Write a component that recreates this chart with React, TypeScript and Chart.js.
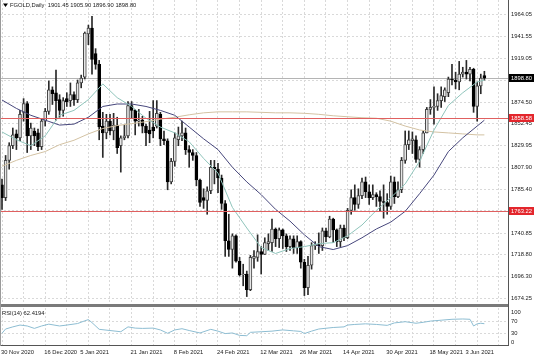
import React, { useEffect, useRef } from 'react';
import { Chart, registerables } from 'chart.js';

Chart.register(...registerables);

// ---- Daily candles (bar index 0 = 30 Nov 2020) ----
const opens = [
  1790, 1777, 1815, 1830, 1842, 1838, 1864, 1873, 1840, 1845,
  1843, 1829, 1855, 1865, 1887, 1884, 1877, 1866, 1878, 1876,
  1882, 1877, 1894, 1900, 1944, 1950, 1924, 1913, 1850, 1843,
  1855, 1845, 1851, 1830, 1838, 1840, 1871, 1866, 1855, 1856,
  1850, 1846, 1849, 1850, 1862, 1837, 1835, 1793, 1814, 1836,
  1840, 1843, 1826, 1823, 1820, 1795, 1777, 1774, 1784, 1808,
  1806, 1797, 1771, 1733, 1724, 1738, 1712, 1698, 1699, 1683,
  1715, 1716, 1722, 1719, 1730, 1731, 1745, 1735, 1744, 1738,
  1727, 1735, 1726, 1732, 1711, 1685, 1708, 1728, 1729, 1728,
  1743, 1737, 1755, 1744, 1732, 1746, 1736, 1764, 1777, 1770,
  1779, 1793, 1783, 1777, 1780, 1778, 1773, 1772, 1768, 1793,
  1778, 1785, 1815, 1831, 1835, 1836, 1816, 1826, 1843, 1867,
  1869, 1870, 1876, 1880, 1884, 1898, 1897, 1895, 1903, 1905,
  1903, 1908, 1870, 1891, 1901.45,
];
const highs = [
  1796, 1820, 1833, 1848, 1846, 1866, 1878, 1875, 1853, 1848,
  1847, 1857, 1868, 1896, 1890, 1907, 1882, 1879, 1884, 1894,
  1885, 1897, 1902, 1946, 1953, 1962, 1929, 1917, 1864, 1862,
  1862, 1863, 1859, 1840, 1851, 1875, 1875, 1867, 1867, 1860,
  1852, 1865, 1876, 1876, 1864, 1845, 1837, 1817, 1843, 1849,
  1855, 1848, 1830, 1826, 1823, 1796, 1786, 1788, 1815, 1815,
  1812, 1800, 1774, 1760, 1740, 1739, 1716, 1709, 1702, 1718,
  1723, 1739, 1727, 1736, 1740, 1755, 1746, 1746, 1745, 1740,
  1738, 1738, 1738, 1733, 1714, 1717, 1731, 1732, 1741, 1746,
  1746, 1758, 1756, 1745, 1749, 1749, 1766, 1785, 1790, 1786,
  1797, 1798, 1790, 1790, 1782, 1784, 1790, 1781, 1799, 1798,
  1793, 1818, 1845, 1845, 1844, 1840, 1829, 1845, 1869, 1877,
  1890, 1883, 1890, 1889, 1900, 1913, 1905, 1916, 1910, 1917,
  1910, 1909, 1895, 1903, 1905.9,
];
const lows = [
  1765, 1774, 1806, 1827, 1826, 1835, 1855, 1823, 1826, 1830,
  1825, 1826, 1850, 1862, 1872, 1856, 1859, 1860, 1870, 1870,
  1871, 1874, 1889, 1898, 1933, 1903, 1908, 1836, 1818, 1837,
  1841, 1836, 1822, 1803, 1836, 1838, 1858, 1841, 1850, 1843,
  1830, 1833, 1838, 1848, 1830, 1831, 1785, 1791, 1809, 1830,
  1835, 1821, 1808, 1815, 1789, 1768, 1766, 1760, 1781, 1791,
  1782, 1765, 1717, 1717, 1705, 1711, 1697, 1687, 1676, 1682,
  1705, 1712, 1699, 1719, 1723, 1722, 1727, 1726, 1725, 1722,
  1723, 1720, 1720, 1705, 1677, 1678, 1704, 1724, 1720, 1723,
  1732, 1736, 1731, 1727, 1727, 1733, 1735, 1760, 1764, 1766,
  1776, 1777, 1770, 1775, 1768, 1763, 1756, 1760, 1765, 1771,
  1777, 1782, 1812, 1826, 1822, 1813, 1808, 1822, 1843, 1862,
  1852, 1866, 1869, 1875, 1880, 1892, 1888, 1887, 1900, 1898,
  1896, 1864, 1855, 1883, 1896.9,
];
const closes = [
  1777, 1815, 1830, 1841, 1838, 1862, 1873, 1840, 1848, 1840,
  1829, 1855, 1865, 1887, 1883, 1876, 1866, 1876, 1875, 1882,
  1877, 1894, 1899, 1945, 1950, 1918, 1913, 1849, 1843, 1855,
  1845, 1851, 1828, 1838, 1840, 1871, 1866, 1855, 1856, 1850,
  1843, 1842, 1845, 1863, 1837, 1835, 1793, 1814, 1838, 1840,
  1843, 1826, 1823, 1820, 1795, 1772, 1774, 1784, 1808, 1806,
  1797, 1771, 1733, 1724, 1738, 1712, 1698, 1699, 1683, 1716,
  1717, 1722, 1719, 1731, 1732, 1745, 1735, 1744, 1738, 1727,
  1735, 1726, 1732, 1711, 1685, 1708, 1728, 1729, 1728, 1743,
  1737, 1755, 1744, 1732, 1746, 1736, 1764, 1777, 1770, 1779,
  1793, 1783, 1777, 1780, 1778, 1773, 1772, 1768, 1793, 1778,
  1785, 1815, 1831, 1836, 1837, 1816, 1826, 1843, 1867, 1869,
  1870, 1876, 1881, 1887, 1898, 1897, 1895, 1903, 1905, 1903,
  1908, 1870, 1891, 1899, 1898.8,
];

// ---- Moving averages, read at these bar indices ----
const maBars = [0, 4, 8, 12, 16, 20, 24, 28, 32, 36, 40, 44, 48, 52, 56, 60, 64, 68, 72, 76, 80, 84, 88, 92, 96, 100, 104, 108, 112, 116, 120, 124, 128, 132, 134];
const maFast = [1844, 1836, 1830, 1840, 1861, 1866, 1877, 1893, 1879, 1870, 1858, 1849, 1843, 1834, 1817, 1802, 1767, 1746, 1726, 1720, 1725, 1727, 1730, 1731, 1738, 1749, 1764, 1777, 1791, 1814, 1846, 1871, 1884, 1895, 1897];
const maMid = [1876.6, 1868, 1861, 1856, 1851, 1852, 1859, 1870, 1872.5, 1872.5, 1870, 1866, 1861, 1849, 1837, 1826, 1808, 1793, 1780, 1765, 1753, 1739, 1727, 1724, 1728, 1736, 1745, 1752, 1763, 1781, 1800, 1824, 1838, 1850, 1856];
const maSlow = [1809, 1815, 1820, 1824, 1831, 1835.5, 1842, 1847.5, 1850.5, 1852.5, 1854.5, 1857, 1859, 1861.5, 1863.5, 1864.5, 1864.5, 1864.5, 1864, 1863.5, 1863.5, 1863, 1862, 1860.5, 1859.5, 1858.5, 1858, 1855, 1850, 1846, 1844, 1843, 1842, 1841, 1841];

// ---- RSI(14) readings ----
const rsiBars = [0, 1, 3, 5, 7, 9, 11, 13, 16, 18, 21, 23, 24, 25, 27, 30, 33, 35, 37, 39, 42, 44, 46, 48, 50, 52, 55, 58, 60, 62, 64, 66, 68, 69, 72, 75, 78, 81, 83, 84, 86, 88, 92, 95, 96, 98, 101, 104, 107, 109, 112, 115, 117, 119, 122, 125, 128, 130, 131, 132, 133, 134];
const rsiVals = [31, 45, 52, 58, 55, 47, 55, 61, 55, 58, 63, 72, 76, 66, 44, 40, 36, 52, 48, 47, 48, 42, 31, 42, 46, 40, 32, 44, 38, 30, 32, 24, 23, 34, 36, 38, 42, 39, 37, 30, 38, 45, 50, 52, 58, 60, 62, 60, 57, 65, 69, 64, 67, 71, 74, 77, 78, 77, 55, 62, 64, 62.4];

// ---- Axis ticks / levels ----
const priceTicks = [1964.05, 1941.55, 1919.05, 1896.55, 1874.5, 1852.45, 1829.95, 1807.9, 1785.4, 1763.35, 1740.85, 1718.8, 1696.3, 1674.25];
const hiddenPriceTicks = [1896.55, 1763.35];
const redLevels = [1858.58, 1763.22];
const lastPrice = 1898.8;
const rsiTicks = [0, 30, 70, 100];
const rsiLevels = [30, 70];
const xTickBars = [0, 12, 22, 36, 48, 60, 72, 83, 95, 107, 119, 129];
const xTickLabels = ['30 Nov 2020', '16 Dec 2020', '5 Jan 2021', '21 Jan 2021', '8 Feb 2021', '24 Feb 2021', '12 Mar 2021', '26 Mar 2021', '14 Apr 2021', '30 Apr 2021', '18 May 2021', '3 Jun 2021'];
const gridEveryBars = 6;
const titleText = 'FGOLD,Daily  1901.45 1905.90 1896.90 1898.80';
const rsiText = 'RSI(14) 62.4194';

const FONT_FAMILY = "'Liberation Sans', Arial, sans-serif";
const FS = 5.8;
const GRID = '#d9d9d9';
const TXT = '#1a1a1a';

const fmt2 = (v: number) => v.toFixed(2);

export default function App() {
  const ref = useRef<HTMLCanvasElement>(null);

  useEffect(() => {
    document.body.style.margin = '0';
    const canvas = ref.current;
    if (!canvas) return;

    const idx = opens.map((_, i) => i);
    const wickData = idx.map((i) => ({ x: i, y: [lows[i], highs[i]] }));
    const bodyData = idx.map((i) => ({ x: i, y: [Math.min(opens[i], closes[i]), Math.max(opens[i], closes[i])] }));
    const bull = idx.map((i) => closes[i] >= opens[i]);
    const toLine = (vals: number[]) => maBars.map((b, k) => ({ x: b, y: vals[k] }));
    const rsiData = rsiBars.map((b, k) => ({ x: b, y: rsiVals[k] }));

    const overlay = {
      id: 'mtOverlay',
      beforeDatasetsDraw(chart: any) {
        const { ctx, chartArea, scales } = chart;
        const py = Math.round(scales.y.getPixelForValue(lastPrice)) + 0.5;
        ctx.save();
        ctx.strokeStyle = '#b4b4b4';
        ctx.lineWidth = 1;
        ctx.beginPath();
        ctx.moveTo(chartArea.left, py);
        ctx.lineTo(chartArea.right, py);
        ctx.stroke();
        ctx.restore();
      },
      afterDatasetsDraw(chart: any) {
        const { ctx, chartArea, scales } = chart;
        ctx.save();
        ctx.strokeStyle = '#e06060';
        ctx.lineWidth = 1;
        redLevels.forEach((lv) => {
          const py = Math.round(scales.y.getPixelForValue(lv)) + 0.5;
          ctx.beginPath();
          ctx.moveTo(chartArea.left, py);
          ctx.lineTo(chartArea.right, py);
          ctx.stroke();
        });
        ctx.restore();
      },
      afterDraw(chart: any) {
        const { ctx, chartArea, scales, width } = chart;
        const y = scales.y;
        ctx.save();
        // panel separator
        const sep = Math.round(y.bottom);
        ctx.fillStyle = '#7a7a7a';
        ctx.fillRect(chartArea.left, sep - 1, chartArea.right - chartArea.left, 3);
        // frame lines
        ctx.strokeStyle = '#555';
        ctx.lineWidth = 1;
        ctx.beginPath();
        ctx.moveTo(Math.round(chartArea.right) + 0.5, chartArea.top);
        ctx.lineTo(Math.round(chartArea.right) + 0.5, chartArea.bottom);
        ctx.moveTo(chartArea.left, Math.round(chartArea.bottom) - 0.5);
        ctx.lineTo(chartArea.right + 1, Math.round(chartArea.bottom) - 0.5);
        ctx.stroke();
        ctx.strokeStyle = '#9a9a9a';
        ctx.beginPath();
        ctx.moveTo(0.5, chartArea.top);
        ctx.lineTo(0.5, chartArea.bottom);
        ctx.stroke();

        // price boxes on the right axis
        ctx.font = `${FS}px ${FONT_FAMILY}`;
        ctx.textBaseline = 'middle';
        ctx.textAlign = 'left';
        const box = (val: number, bg: string) => {
          const py = y.getPixelForValue(val);
          ctx.fillStyle = bg;
          ctx.fillRect(chartArea.right + 1, Math.round(py) - 4, width - chartArea.right - 3, 8);
          ctx.fillStyle = '#ffffff';
          ctx.fillText(fmt2(val), chartArea.right + 3, py + 0.5);
        };
        redLevels.forEach((lv) => box(lv, '#e3262c'));
        box(lastPrice, '#000000');

        // title
        ctx.fillStyle = '#000';
        ctx.beginPath();
        ctx.moveTo(3, 3.5);
        ctx.lineTo(8, 3.5);
        ctx.lineTo(5.5, 7);
        ctx.closePath();
        ctx.fill();
        ctx.fillStyle = TXT;
        ctx.fillText(titleText, 10, 5.5);
        // RSI caption
        ctx.fillText(rsiText, 2, scales.yr.getPixelForValue(100) + 1);
        ctx.restore();
      },
    };

    const zeroPad = (s: any) => {
      s.paddingTop = 0;
      s.paddingBottom = 0;
      s.paddingLeft = 0;
      s.paddingRight = 0;
    };

    const chart = new Chart(canvas, {
      type: 'bar',
      data: {
        datasets: [
          {
            type: 'line',
            data: toLine(maFast),
            borderColor: '#8fc4bb',
            borderWidth: 1,
            pointRadius: 0,
            xAxisID: 'x',
            yAxisID: 'y',
            order: 0,
          } as any,
          {
            type: 'line',
            data: toLine(maMid),
            borderColor: '#47477c',
            borderWidth: 1,
            pointRadius: 0,
            xAxisID: 'x',
            yAxisID: 'y',
            order: 0,
          } as any,
          {
            type: 'line',
            data: toLine(maSlow),
            borderColor: '#d3c2a3',
            borderWidth: 1,
            pointRadius: 0,
            xAxisID: 'x',
            yAxisID: 'y',
            order: 0,
          } as any,
          {
            type: 'line',
            data: rsiData,
            borderColor: '#8dbdd2',
            borderWidth: 1,
            pointRadius: 0,
            xAxisID: 'x',
            yAxisID: 'yr',
            order: 0,
          } as any,
          {
            type: 'bar',
            data: bodyData,
            backgroundColor: bull.map((b) => (b ? '#e6e6e6' : '#000000')),
            borderColor: bull.map((b) => (b ? '#444444' : '#000000')),
            borderWidth: 1,
            borderSkipped: false,
            barThickness: 3,
            minBarLength: 1,
            grouped: false,
            xAxisID: 'x',
            yAxisID: 'y',
            order: 1,
          } as any,
          {
            type: 'bar',
            data: wickData,
            backgroundColor: '#2a2a2a',
            borderWidth: 0,
            barThickness: 1,
            grouped: false,
            xAxisID: 'x',
            yAxisID: 'y',
            order: 2,
          } as any,
        ],
      },
      options: {
        responsive: false,
        maintainAspectRatio: false,
        animation: false,
        events: [],
        layout: { padding: 0 },
        plugins: { legend: { display: false }, tooltip: { enabled: false }, title: { display: false } },
        scales: {
          y: {
            type: 'linear',
            position: 'right',
            stack: 'panes',
            stackWeight: 305,
            min: 1667.4,
            max: 1978.64,
            afterBuildTicks: (s: any) => {
              s.ticks = priceTicks.map((v) => ({ value: v }));
            },
            afterFit: (s: any) => {
              s.width = 28;
              zeroPad(s);
            },
            ticks: {
              autoSkip: false,
              padding: 3,
              color: TXT,
              font: { family: FONT_FAMILY, size: FS },
              callback: (v: any) => (hiddenPriceTicks.includes(v) ? '' : fmt2(v)),
            },
            grid: { color: GRID, lineWidth: 1, drawTicks: false },
            border: { display: false, dash: [2, 2] },
          },
          yr: {
            type: 'linear',
            position: 'right',
            stack: 'panes',
            stackWeight: 41,
            min: -10.9,
            max: 124,
            afterBuildTicks: (s: any) => {
              s.ticks = rsiTicks.map((v) => ({ value: v }));
            },
            afterFit: (s: any) => {
              s.width = 28;
              zeroPad(s);
            },
            ticks: {
              autoSkip: false,
              padding: 3,
              color: TXT,
              font: { family: FONT_FAMILY, size: FS },
              callback: (v: any) => String(v),
            },
            grid: {
              color: (c: any) => (c.tick && rsiLevels.includes(c.tick.value) ? GRID : 'rgba(0,0,0,0)'),
              lineWidth: 1,
              drawTicks: false,
            },
            border: { display: false, dash: [2, 2] },
          },
          x: {
            type: 'linear',
            position: 'bottom',
            min: -0.556,
            max: 140.56,
            offset: false,
            afterBuildTicks: (s: any) => {
              const set = new Set<number>();
              for (let v = 0; v <= 140; v += gridEveryBars) set.add(v);
              xTickBars.forEach((v) => set.add(v));
              s.ticks = Array.from(set)
                .sort((a, b) => a - b)
                .map((v) => ({ value: v }));
            },
            afterFit: (s: any) => {
              s.height = 11;
              zeroPad(s);
            },
            ticks: {
              autoSkip: false,
              maxRotation: 0,
              minRotation: 0,
              align: 'start',
              labelOffset: -1,
              padding: 3,
              color: TXT,
              font: { family: FONT_FAMILY, size: FS },
              callback: (v: any) => {
                const k = xTickBars.indexOf(v);
                return k >= 0 ? xTickLabels[k] : '';
              },
            },
            grid: {
              offset: false,
              color: (c: any) => (c.tick && c.tick.value % gridEveryBars === 0 ? GRID : 'rgba(0,0,0,0)'),
              lineWidth: 1,
              drawTicks: false,
            },
            border: { display: false, dash: [2, 2] },
          },
        },
      } as any,
      plugins: [overlay],
    });

    return () => chart.destroy();
  }, []);

  return (
    <div style={{ width: 536, height: 357, background: '#fff' }}>
      <canvas ref={ref} width={536} height={357} style={{ display: 'block' }} />
    </div>
  );
}
